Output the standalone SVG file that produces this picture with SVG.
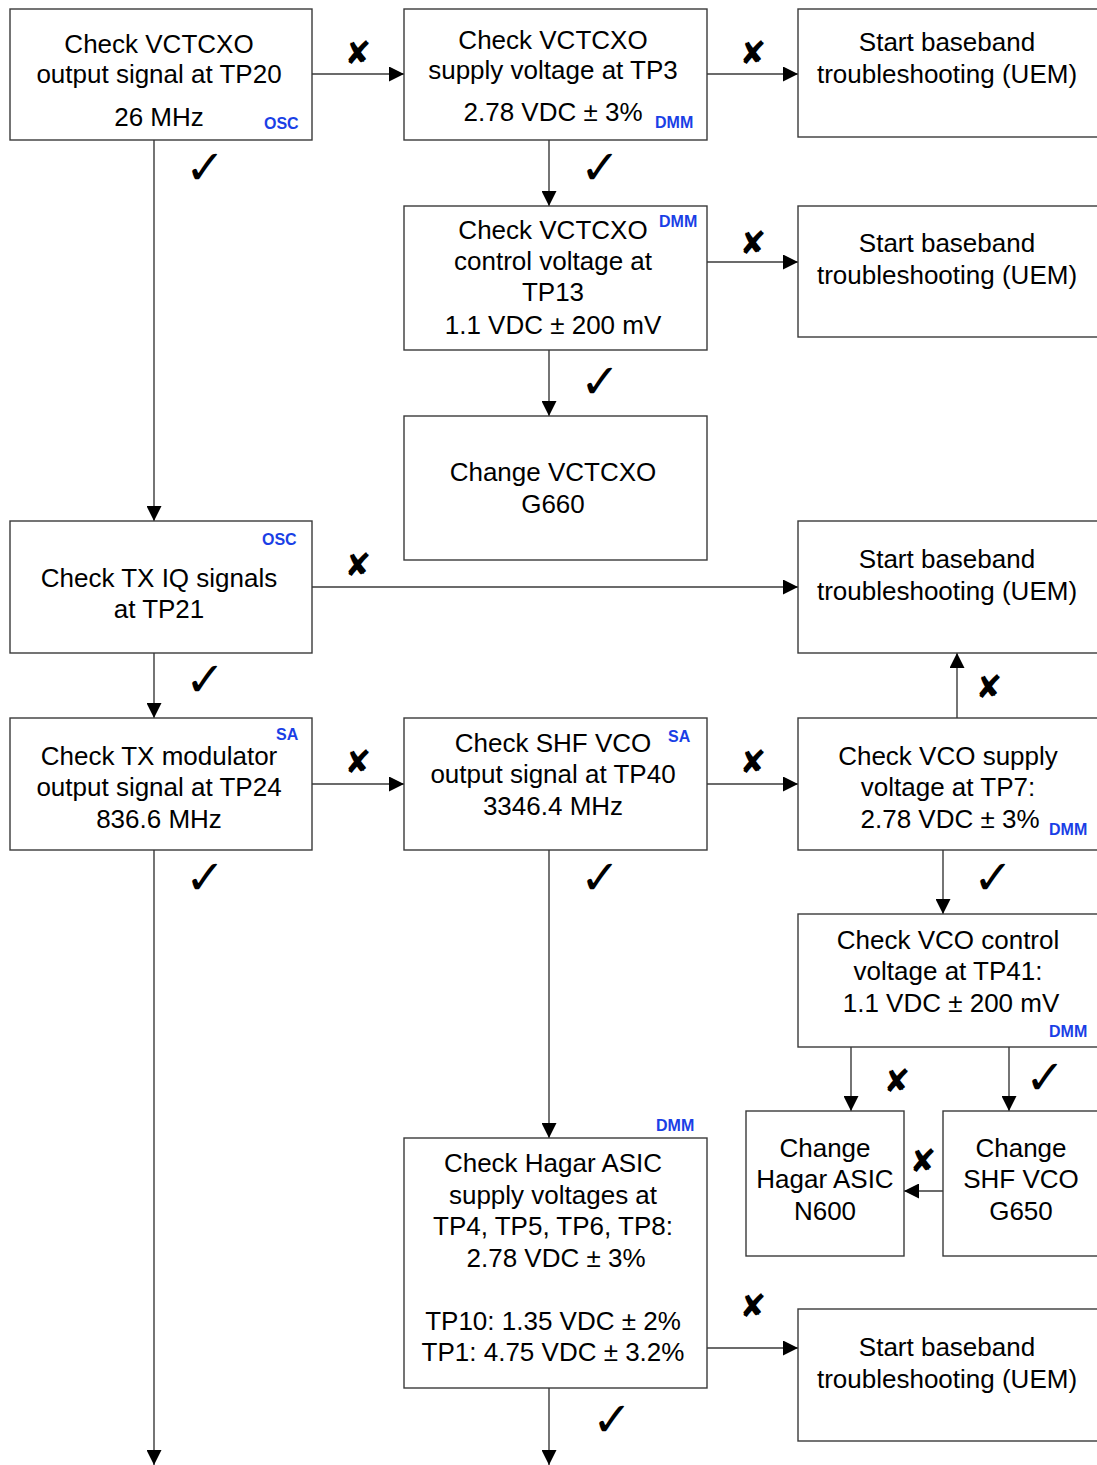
<svg xmlns="http://www.w3.org/2000/svg" width="1097" height="1465" viewBox="0 0 1097 1465">
<defs>
<marker id="ah" markerWidth="15" markerHeight="15" refX="15" refY="7.5" orient="auto" markerUnits="userSpaceOnUse">
<path d="M0,0 L15,7.5 L0,15 Z" fill="#000"/>
</marker>
<style>
.box{fill:#fff;stroke:#3a3a3a;stroke-width:1.4}
.t{font-family:"Liberation Sans",Arial,sans-serif;font-size:26px;fill:#000;text-anchor:middle}
.tag{font-family:"Liberation Sans",Arial,sans-serif;font-size:16px;font-weight:bold;fill:#1a3fe6}
.ln{stroke:#3a3a3a;stroke-width:1.4;fill:none;marker-end:url(#ah)}
.ok{font-family:"DejaVu Sans",sans-serif;font-size:48px;font-weight:bold;fill:#000;text-anchor:middle}
.no{font-family:"DejaVu Sans",sans-serif;font-size:32px;font-weight:bold;fill:#000;text-anchor:middle}
</style>
</defs>
<rect width="1097" height="1465" fill="#fff"/>

<g id="connectors">
<path class="ln" d="M312,74 H404"/>
<path class="ln" d="M707,74 H798"/>
<path class="ln" d="M154,140 V521"/>
<path class="ln" d="M549,140 V206"/>
<path class="ln" d="M707,262 H798"/>
<path class="ln" d="M549,350 V416"/>
<path class="ln" d="M312,587 H798"/>
<path class="ln" d="M154,653 V718"/>
<path class="ln" d="M312,784 H404"/>
<path class="ln" d="M707,784 H798"/>
<path class="ln" d="M957,718 V653"/>
<path class="ln" d="M943,850 V914"/>
<path class="ln" d="M851,1047 V1111"/>
<path class="ln" d="M1009,1047 V1111"/>
<path class="ln" d="M943,1191 H904"/>
<path class="ln" d="M549,850 V1138"/>
<path class="ln" d="M707,1348 H798"/>
<path class="ln" d="M549,1388 V1465"/>
<path class="ln" d="M154,850 V1465"/>
<text class="no" x="358" y="64">✘</text>
<text class="no" x="753" y="64">✘</text>
<text class="ok" x="205" y="184">✓</text>
<text class="ok" x="600" y="184">✓</text>
<text class="no" x="753" y="254">✘</text>
<text class="ok" x="600" y="398">✓</text>
<text class="no" x="358" y="576">✘</text>
<text class="ok" x="205" y="696">✓</text>
<text class="no" x="358" y="773">✘</text>
<text class="no" x="753" y="773">✘</text>
<text class="no" x="989" y="698">✘</text>
<text class="ok" x="993" y="894">✓</text>
<text class="ok" x="205" y="894">✓</text>
<text class="ok" x="600" y="894">✓</text>
<text class="no" x="897" y="1092">✘</text>
<text class="ok" x="1045" y="1094">✓</text>
<text class="no" x="923" y="1172">✘</text>
<text class="no" x="753" y="1317">✘</text>
<text class="ok" x="612" y="1436">✓</text>
</g>

<g id="n1">
<rect class="box" x="10" y="9" width="302" height="131"/>
<text class="t" x="159" y="53">Check VCTCXO</text>
<text class="t" x="159" y="83">output signal at TP20</text>
<text class="t" x="159" y="126">26 MHz</text>
<text class="tag" x="264" y="129">OSC</text>
</g>
<g id="n2">
<rect class="box" x="404" y="9" width="303" height="131"/>
<text class="t" x="553" y="49">Check VCTCXO</text>
<text class="t" x="553" y="79">supply voltage at TP3</text>
<text class="t" x="553" y="121">2.78 VDC ± 3%</text>
<text class="tag" x="655" y="128">DMM</text>
</g>
<g id="n3">
<rect class="box" x="798" y="9" width="310" height="128"/>
<text class="t" x="947" y="51">Start baseband</text>
<text class="t" x="947" y="83">troubleshooting (UEM)</text>
</g>
<g id="n4">
<rect class="box" x="404" y="206" width="303" height="144"/>
<text class="t" x="553" y="239">Check VCTCXO</text>
<text class="t" x="553" y="270">control voltage at</text>
<text class="t" x="553" y="301">TP13</text>
<text class="t" x="553" y="334">1.1 VDC ± 200 mV</text>
<text class="tag" x="659" y="227">DMM</text>
</g>
<g id="n5">
<rect class="box" x="798" y="206" width="310" height="131"/>
<text class="t" x="947" y="252">Start baseband</text>
<text class="t" x="947" y="284">troubleshooting (UEM)</text>
</g>
<g id="n6">
<rect class="box" x="404" y="416" width="303" height="144"/>
<text class="t" x="553" y="481">Change VCTCXO</text>
<text class="t" x="553" y="513">G660</text>
</g>
<g id="n7">
<rect class="box" x="10" y="521" width="302" height="132"/>
<text class="tag" x="262" y="545">OSC</text>
<text class="t" x="159" y="587">Check TX IQ signals</text>
<text class="t" x="159" y="618">at TP21</text>
</g>
<g id="n8">
<rect class="box" x="798" y="521" width="310" height="132"/>
<text class="t" x="947" y="568">Start baseband</text>
<text class="t" x="947" y="600">troubleshooting (UEM)</text>
</g>
<g id="n9">
<rect class="box" x="10" y="718" width="302" height="132"/>
<text class="tag" x="276" y="740">SA</text>
<text class="t" x="159" y="765">Check TX modulator</text>
<text class="t" x="159" y="796">output signal at TP24</text>
<text class="t" x="159" y="828">836.6 MHz</text>
</g>
<g id="n10">
<rect class="box" x="404" y="718" width="303" height="132"/>
<text class="tag" x="668" y="742">SA</text>
<text class="t" x="553" y="752">Check SHF VCO</text>
<text class="t" x="553" y="783">output signal at TP40</text>
<text class="t" x="553" y="815">3346.4 MHz</text>
</g>
<g id="n11">
<rect class="box" x="798" y="718" width="310" height="132"/>
<text class="t" x="948" y="765">Check VCO supply</text>
<text class="t" x="948" y="796">voltage at TP7:</text>
<text class="t" x="950" y="828">2.78 VDC ± 3%</text>
<text class="tag" x="1049" y="835">DMM</text>
</g>
<g id="n12">
<rect class="box" x="798" y="914" width="310" height="133"/>
<text class="t" x="948" y="949">Check VCO control</text>
<text class="t" x="948" y="980">voltage at TP41:</text>
<text class="t" x="951" y="1012">1.1 VDC ± 200 mV</text>
<text class="tag" x="1049" y="1037">DMM</text>
</g>
<g id="n13">
<rect class="box" x="746" y="1111" width="158" height="145"/>
<text class="t" x="825" y="1157">Change</text>
<text class="t" x="825" y="1188">Hagar ASIC</text>
<text class="t" x="825" y="1220">N600</text>
</g>
<g id="n14">
<rect class="box" x="943" y="1111" width="165" height="145"/>
<text class="t" x="1021" y="1157">Change</text>
<text class="t" x="1021" y="1188">SHF VCO</text>
<text class="t" x="1021" y="1220">G650</text>
</g>
<g id="n15">
<rect class="box" x="404" y="1138" width="303" height="250"/>
<text class="tag" x="656" y="1131">DMM</text>
<text class="t" x="553" y="1172">Check Hagar ASIC</text>
<text class="t" x="553" y="1204">supply voltages at</text>
<text class="t" x="553" y="1235">TP4, TP5, TP6, TP8:</text>
<text class="t" x="556" y="1267">2.78 VDC ± 3%</text>
<text class="t" x="553" y="1330">TP10: 1.35 VDC ± 2%</text>
<text class="t" x="553" y="1361">TP1: 4.75 VDC ± 3.2%</text>
</g>
<g id="n16">
<rect class="box" x="798" y="1309" width="310" height="132"/>
<text class="t" x="947" y="1356">Start baseband</text>
<text class="t" x="947" y="1388">troubleshooting (UEM)</text>
</g>
</svg>
